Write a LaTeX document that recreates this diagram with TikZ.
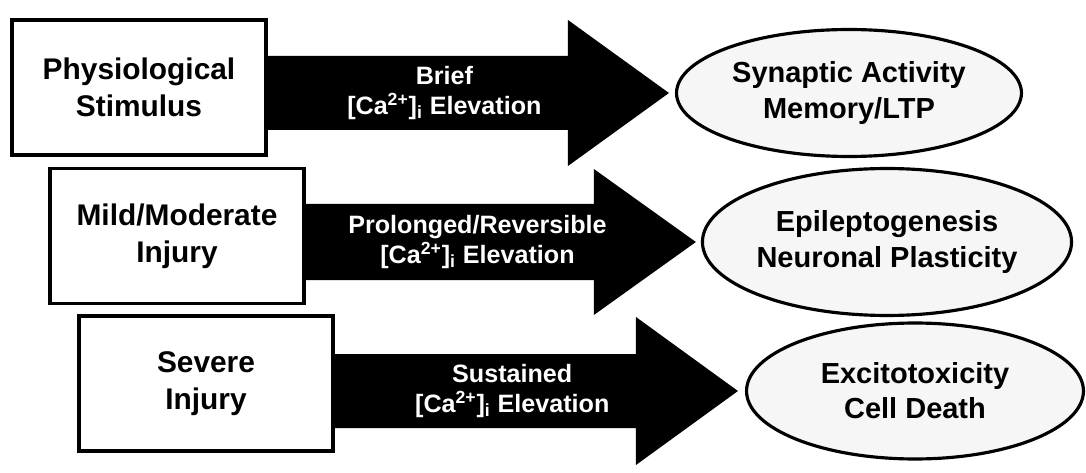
\documentclass[tikz,border=0pt]{standalone}
\usepackage{fontspec}
\setmainfont{Liberation Sans}
\usepackage{xcolor}
\usetikzlibrary{calc,positioning,shapes.geometric}
\definecolor{ovalfill}{gray}{0.965}

\begin{document}
\begin{tikzpicture}[
  x=0.02cm, y=-0.02cm,
  cause/.style={rectangle, draw, line width=2.2pt, fill=white,
                minimum width=5.08cm, minimum height=2.70cm, align=center,
                font=\fontsize{17}{21}\selectfont\bfseries},
  outcome/.style={ellipse, draw, line width=1.8pt, fill=ovalfill,
                  inner sep=0pt, align=center,
                  font=\fontsize{16.5}{20}\selectfont\bfseries},
  blk/.style={fill=black},
  flow/.style={text=white, align=center,
               font=\fontsize{14.3}{17}\selectfont\bfseries}]

\useasboundingbox (0,0) rectangle (1086,473);

% ================= the three causes =======================================
\node[cause] (b1) at (139,87.5) {Physiological\\Stimulus};
\node[cause] (b2) at (177,236)  {Mild/Moderate\\Injury};
\node[cause] (b3) at (206,383.5) {Severe\\Injury};

% ================= the three outcomes =====================================
\node[outcome, minimum width=6.90cm, minimum height=2.54cm] (e1) at (849,93)
     {Synaptic Activity\\Memory/LTP};
\node[outcome, minimum width=6.94cm, minimum height=2.94cm] (e2) at (887,242)
     {Epileptogenesis\\Neuronal Plasticity};
\node[outcome, minimum width=6.74cm, minimum height=2.72cm] (e3) at (915,391)
     {Excitotoxicity\\Cell Death};

% ================= the block arrows =======================================
\coordinate (s1) at (b1.east |- e1.west);
\coordinate (t1) at ($(e1.west)+(-6,0)$);
\coordinate (s2) at (b2.east |- e2.west);
\coordinate (t2) at ($(e2.west)+(-5,0)$);
\coordinate (s3) at (b3.east |- e3.west);
\coordinate (t3) at ($(e3.west)+(-7,0)$);

\fill[blk] ($(s1)+(0,-37)$) -- ($(t1)+(-101,-37)$) -- ($(t1)+(-101,-73)$)
  -- (t1) -- ($(t1)+(-101,73)$) -- ($(t1)+(-101,37)$) -- ($(s1)+(0,37)$) -- cycle;
\fill[blk] ($(s2)+(0,-38)$) -- ($(t2)+(-102,-38)$) -- ($(t2)+(-102,-73)$)
  -- (t2) -- ($(t2)+(-102,73)$) -- ($(t2)+(-102,38)$) -- ($(s2)+(0,38)$) -- cycle;
\fill[blk] ($(s3)+(0,-37)$) -- ($(t3)+(-102,-37)$) -- ($(t3)+(-102,-74)$)
  -- (t3) -- ($(t3)+(-102,74)$) -- ($(t3)+(-102,37)$) -- ($(s3)+(0,37)$) -- cycle;

\node[flow] (a1) at ($(s1)!0.44!(t1)$)
     {Brief\\{}[Ca\textsuperscript{2+}]\textsubscript{i} Elevation};
\node[flow] (a2) at ($(s2)!0.44!(t2)$)
     {Prolonged/Reversible\\{}[Ca\textsuperscript{2+}]\textsubscript{i} Elevation};
\node[flow] (a3) at ($(s3)!0.44!(t3)$)
     {Sustained\\{}[Ca\textsuperscript{2+}]\textsubscript{i} Elevation};

\end{tikzpicture}
\end{document}
